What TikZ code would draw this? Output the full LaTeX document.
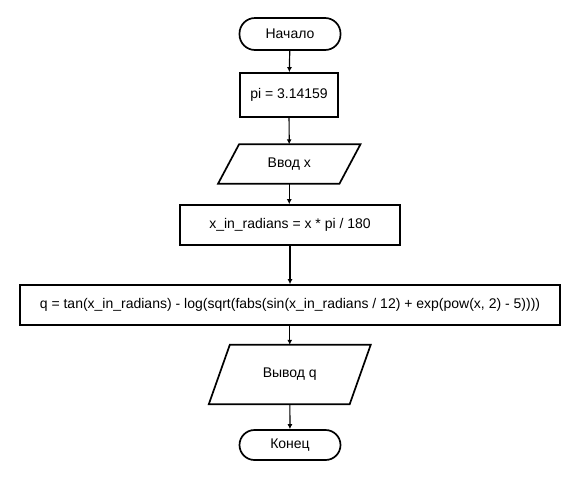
\documentclass[tikz,border=0pt]{standalone}
\usepackage{fontspec}
\setmainfont{Liberation Sans}
\usetikzlibrary{calc,arrows.meta}
\begin{document}
\begin{tikzpicture}[x=1pt,y=-1pt,
  every node/.style={font=\fontsize{14}{16}\selectfont, inner sep=0pt},
  term/.style={draw, line width=1.7pt, rounded corners=15.5pt, minimum width=101pt, minimum height=32pt},
  proc/.style={draw, line width=1.7pt, minimum height=40pt},
  iobox/.style={minimum height=39pt},
  shapeline/.style={line width=1.7pt, line join=miter},
  conn/.style={line width=1.2pt, -{Latex[length=5pt,width=5pt]}}
]
\useasboundingbox[fill=white] (0,0) rectangle (580,480);
\node[term] (start) at (290,34) {Начало};
\node[proc, minimum width=98pt, minimum height=44pt] (pi) at (289,95) {pi = 3.14159};
\node[iobox, minimum width=121pt] (in) at (289.25,164) {Ввод x};
\draw[shapeline] ($(in.north west)+(10.5,0)$) -- ($(in.north east)+(10.5,0)$) -- ($(in.south east)+(-10.5,0)$) -- ($(in.south west)+(-10.5,0)$) -- cycle;
\node[proc, minimum width=220pt] (xr) at (290,225) {x\_in\_radians = x * pi / 180};
\node[proc, minimum width=540pt] (q) at (290,305) {q = tan(x\_in\_radians) - log(sqrt(fabs(sin(x\_in\_radians / 12) + exp(pow(x, 2) - 5))))};
\node[iobox, minimum width=140.5pt, minimum height=59pt] (out) at (289.75,374.5) {Вывод q};
\draw[shapeline] ($(out.north west)+(10.5,0)$) -- ($(out.north east)+(10.5,0)$) -- ($(out.south east)+(-10.5,0)$) -- ($(out.south west)+(-10.5,0)$) -- cycle;
\node[term, minimum height=30pt, rounded corners=15pt] (end) at (290,445) {Конец};
\draw[conn] (start) -- (pi);
\draw[conn] (pi) -- (in);
\draw[conn] (in) -- (in |- xr.north);
\draw[conn] (xr) -- (q);
\draw[conn] (q.south -| out) -- (out);
\draw[conn] (out) -- (end);
\end{tikzpicture}
\end{document}
